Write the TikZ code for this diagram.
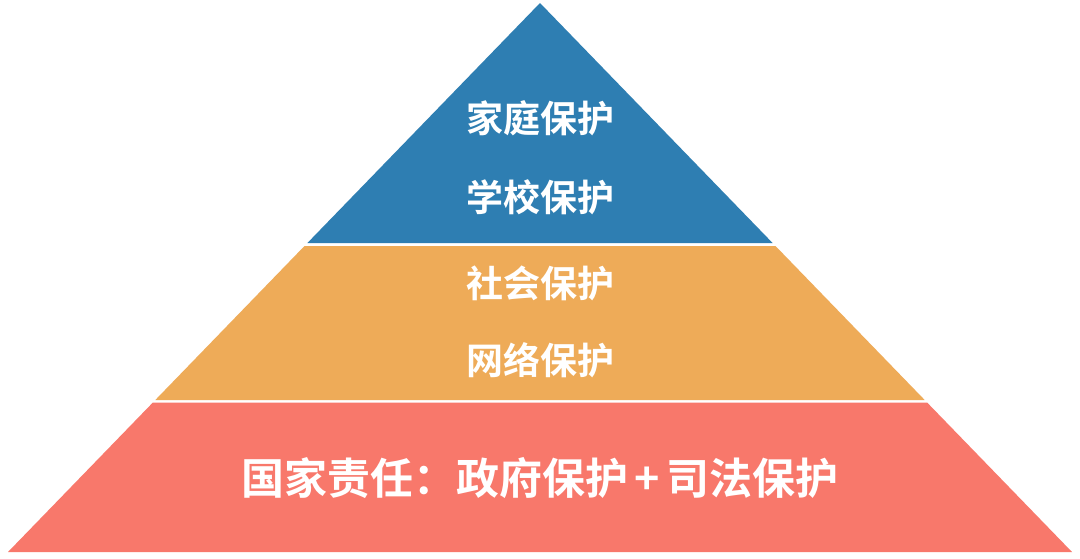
\documentclass[tikz,border=0pt]{standalone}
\usepackage{fontspec}
\newfontfamily\cjk{Noto Sans CJK SC}[BoldFont={Noto Sans CJK SC Bold}]
\definecolor{topblue}{HTML}{2E7EB2}
\definecolor{midorange}{HTML}{EEAB58}
\definecolor{lowred}{HTML}{F8786B}
\tikzset{
  band/.style={draw=none},
  lbl/.style={text=white, font=\cjk\bfseries\fontsize{37}{37}\selectfont, inner sep=0pt, anchor=center},
  biglbl/.style={text=white, font=\cjk\bfseries\fontsize{43}{43}\selectfont, inner sep=0pt, anchor=center}
}
\begin{document}
\begin{tikzpicture}[x=1pt,y=-1pt]
\useasboundingbox (0,0) rectangle (1080,558);
\fill[white] (0,0) rectangle (1080,558);
% bands
\fill[band, topblue] (540,3) -- (772.6,243) -- (307.4,243) -- cycle;
\fill[band, midorange] (304.5,246) -- (775.5,246) -- (924.7,400) -- (155.3,400) -- cycle;
\fill[band, lowred] (152.9,402.5) -- (927.1,402.5) -- (1072,552) -- (8,552) -- cycle;
% labels
\node[lbl] (home) at (540,118) {家庭保护};
\node[lbl] (school) at (540,197) {学校保护};
\node[lbl] (society) at (540,283) {社会保护};
\node[lbl] (net) at (540,360) {网络保护};
\node[biglbl] (state) at (540,478) {国家责任：政府保护\hspace{6pt}+\hspace{6pt}司法保护};
\end{tikzpicture}
\end{document}
